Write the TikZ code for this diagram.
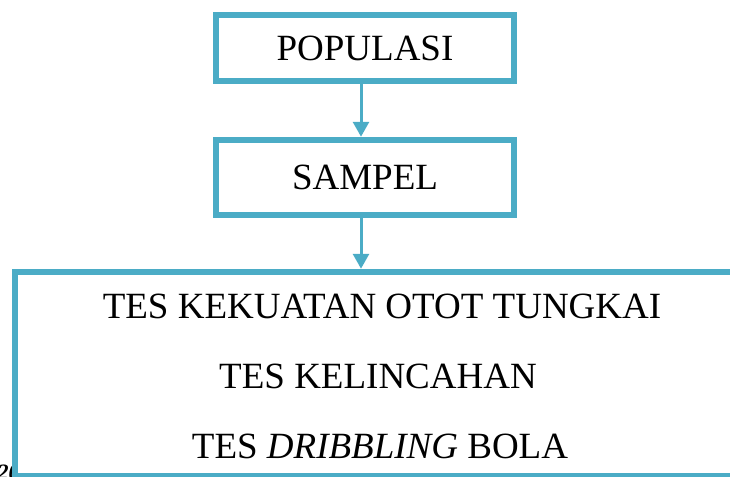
\documentclass[tikz,border=0pt]{standalone}
\usepackage{fontspec}
\setmainfont{Liberation Serif}
\usetikzlibrary{arrows.meta}
\definecolor{aqua}{HTML}{4BACC6}
\tikzset{
  box/.style={draw=aqua, line width=6.5pt, fill=white, rectangle, inner sep=0pt},
  arr/.style={draw=aqua, line width=3pt, -{Triangle[width=16pt,length=15pt]}},
  big/.style={font=\fontsize{37}{44}\selectfont, text=black},
}
\begin{document}
\begin{tikzpicture}[x=1pt,y=-1pt]
\useasboundingbox (0,0) rectangle (730,476);
\clip (0,0) rectangle (730,476);
\node[anchor=base west, font=\fontsize{22}{26}\selectfont\bfseries\itshape] (frag) at (-6,479) {20};
\node[box, big, minimum width=298pt, minimum height=66pt] (pop) at (365,48) {POPULASI};
\node[box, big, minimum width=298pt, minimum height=75pt] (samp) at (365,177.5) {SAMPEL};
\node[box, minimum width=745pt, minimum height=204pt] (tests) at (387.5,374) {};
\node[big, anchor=base] (t1) at (382,318) {TES KEKUATAN OTOT TUNGKAI};
\node[big, anchor=base] (t2) at (378,388) {TES KELINCAHAN};
\node[big, anchor=base] (t3) at (380,458) {TES \textit{DRIBBLING} BOLA};
\draw[arr] ([xshift=-4pt]pop.south) -- ([xshift=-4pt]samp.north);
\draw[arr] ([xshift=-4pt]samp.south) -- ([xshift=-4pt]samp.south |- tests.north);
\end{tikzpicture}
\end{document}
